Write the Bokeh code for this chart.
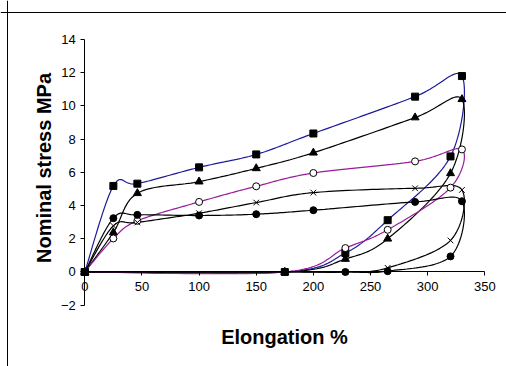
import numpy as np
from bokeh.plotting import figure
from bokeh.models import Range1d, FixedTicker, LinearAxis, Span
from bokeh.embed import file_html
from bokeh.resources import INLINE

# Elongation (%) sequence: loading to ~330 %, unloading, return along zero
elongation = [0, 25, 46, 100, 150, 200, 289, 330, 320, 265, 228, 175, 0]

stress_square = [0, 5.18, 5.32, 6.30, 7.08, 8.34, 10.56, 11.80, 6.96, 3.12, 1.14, 0, 0]
stress_triangle = [0, 2.38, 4.74, 5.44, 6.24, 7.18, 9.30, 10.40, 5.94, 2.00, 0.78, 0, 0]
stress_open_circle = [0, 2.02, 3.08, 4.22, 5.16, 5.96, 6.66, 7.38, 5.08, 2.54, 1.44, 0, 0]
stress_cross = [0, 2.78, 2.98, 3.54, 4.18, 4.78, 5.04, 4.94, 1.90, 0.25, 0, 0, 0]
stress_dot = [0, 3.24, 3.44, 3.40, 3.48, 3.72, 4.22, 4.26, 0.94, 0.05, 0, 0, 0]

x_ticks = [0, 50, 100, 150, 200, 250, 300, 350]
y_ticks = [-2, 0, 2, 4, 6, 8, 10, 12, 14]
x_lim = (0, 350)
y_lim = (-2, 14)


def smooth(xs, ys, n=24):
    """Excel-like smoothed line (Catmull-Rom Bezier) through the data points."""
    P = np.column_stack([xs, ys]).astype(float)
    m = len(P)
    out = [P[0]]
    t = np.linspace(0, 1, n)[1:, None]
    for i in range(m - 1):
        p0 = P[i - 1] if i > 0 else P[i]
        p1, p2 = P[i], P[i + 1]
        p3 = P[i + 2] if i + 2 < m else P[i + 1]
        c1 = p1 + (p2 - p0) / 6.0
        c2 = p2 - (p3 - p1) / 6.0
        seg = ((1 - t) ** 3) * p1 + 3 * ((1 - t) ** 2) * t * c1 + 3 * (1 - t) * t ** 2 * c2 + t ** 3 * p2
        out.extend(seg)
    out = np.array(out)
    return out[:, 0], out[:, 1]


FONT = "Liberation Sans"
W, H = 506, 366
# plot area placement (pixels in the canvas)
AX_LEFT, AX_RIGHT = 84.3, 484.3
AX_TOP, AX_BOTTOM = 39.0, 304.7
sx = (AX_RIGHT - AX_LEFT) / (x_lim[1] - x_lim[0])
sy = (AX_BOTTOM - AX_TOP) / (y_lim[1] - y_lim[0])
xr = Range1d(x_lim[0] - AX_LEFT / sx, x_lim[1] + (W - AX_RIGHT) / sx)
yr = Range1d(y_lim[0] - (H - AX_BOTTOM) / sy, y_lim[1] + AX_TOP / sy)


def px_to_x(px):
    return x_lim[0] + (px - AX_LEFT) / sx


def px_to_y(py):
    return y_lim[1] - (py - AX_TOP) / sy


p = figure(
    output_backend="svg",
    toolbar_location=None,
    width=W,
    height=H,
    x_range=xr,
    y_range=yr,
    x_axis_type=None,
    y_axis_type=None,
    min_border=0,
)
p.grid.visible = False
p.outline_line_color = None
p.background_fill_color = "white"
p.border_fill_color = "white"

# chart-area border (Excel chart box): its top and left edges
p.add_layout(Span(location=px_to_x(7), dimension="height", line_color="black", line_width=1))
p.add_layout(Span(location=px_to_y(12), dimension="width", line_color="black", line_width=1))

# y axis at x = 0
yax = LinearAxis(ticker=FixedTicker(ticks=y_ticks), fixed_location=0, bounds=y_lim)
yax.minor_tick_line_color = None
yax.major_tick_out = 4
yax.major_tick_in = 0
yax.major_label_standoff = 5
yax.major_label_text_font = FONT
yax.major_label_text_font_size = "13px"
yax.major_label_text_color = "black"
yax.axis_line_color = "black"
p.add_layout(yax, "left")

# x axis at y = 0
xax = LinearAxis(ticker=FixedTicker(ticks=x_ticks), fixed_location=0, bounds=x_lim)
xax.minor_tick_line_color = None
xax.major_tick_out = 4
xax.major_tick_in = 0
xax.major_label_standoff = 6
xax.major_label_text_font = FONT
xax.major_label_text_font_size = "13px"
xax.major_label_text_color = "black"
xax.axis_line_color = "black"
p.add_layout(xax, "below")

# title-only axes
xt = LinearAxis(ticker=FixedTicker(ticks=[]), fixed_location=y_lim[0], bounds=x_lim)
xt.axis_line_color = None
xt.major_tick_out = 0
xt.major_label_standoff = 0
xt.axis_label = "Elongation %"
xt.axis_label_text_font = FONT
xt.axis_label_text_font_style = "bold"
xt.axis_label_text_font_size = "20px"
xt.axis_label_text_color = "black"
xt.axis_label_standoff = 20
p.add_layout(xt, "below")

yt = LinearAxis(ticker=FixedTicker(ticks=[]), fixed_location=px_to_x(54), bounds=(-1.5, 14))
yt.axis_line_color = None
yt.major_tick_out = 0
yt.major_label_standoff = 0
yt.axis_label = "Nominal stress MPa"
yt.axis_label_text_font = FONT
yt.axis_label_text_font_style = "bold"
yt.axis_label_text_font_size = "20px"
yt.axis_label_text_color = "black"
yt.axis_label_standoff = 0
p.add_layout(yt, "left")

series = [
    (stress_square, "#1a1a9a", "square", "black", 7),
    (stress_triangle, "black", "triangle", "black", 8),
    (stress_open_circle, "#9a1a9a", "circle", "white", 7),
    (stress_cross, "black", "x", "black", 8),
    (stress_dot, "black", "circle", "black", 7),
]
for ys, lc, mk, fc, sz in series:
    lx, ly = smooth(elongation, ys)
    p.line(lx, ly, line_color=lc, line_width=1.2)
for ys, lc, mk, fc, sz in series:
    p.scatter(elongation, ys, marker=mk, size=sz, fill_color=fc, line_color="black", line_width=1)

open("out.html", "w").write(file_html(p, INLINE))
